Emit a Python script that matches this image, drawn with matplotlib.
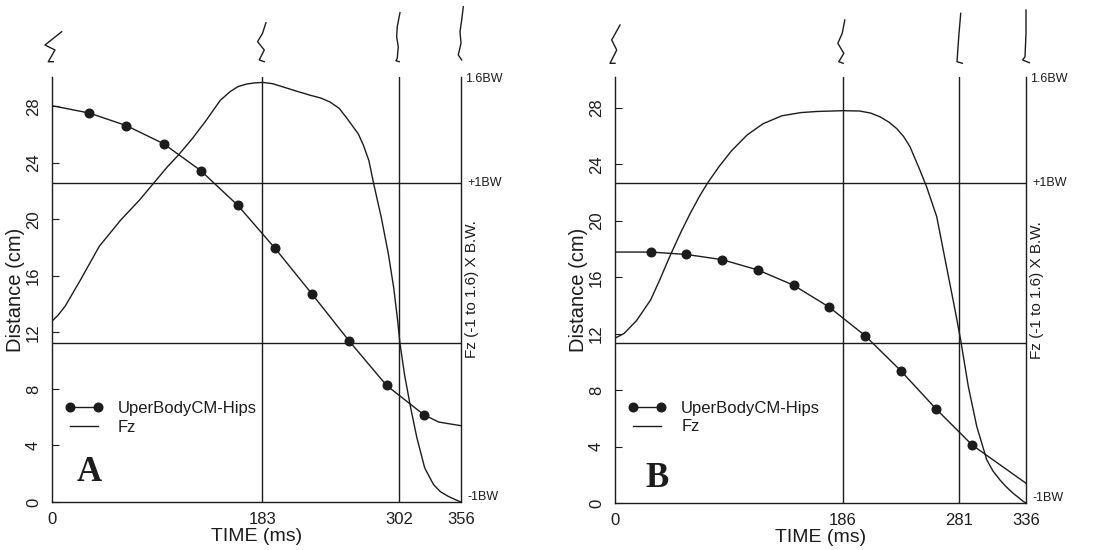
import matplotlib
matplotlib.use("Agg")
import matplotlib.pyplot as plt
from matplotlib import transforms
from matplotlib.lines import Line2D

plt.rcParams['font.family'] = ['Liberation Sans', 'DejaVu Sans']

# ---------------- data ----------------
dist_ticks = [0, 4, 8, 12, 16, 20, 24, 28]

# Panel A
timeA_ticks = [0, 183, 302, 356]
distA_t = [0, 32.4, 64.7, 97.1, 129.4, 161.8, 194.2, 226.5, 258.9, 291.2, 323.6, 336.5, 356]
distA_v = [28.05, 27.53, 26.64, 25.36, 23.46, 20.99, 17.95, 14.7, 11.37, 8.25, 6.18, 5.66, 5.4]
fzA_t = [0, 5, 11.4, 24.9, 41.1, 60, 68.1, 76.2, 88.4, 100.5, 110, 122.2, 134.3, 146.5, 155,
         162, 169, 176.2, 183.7, 192, 201, 212, 224.5, 234, 242, 250, 256.5, 266.6, 271, 275.8,
         279.9, 286.6, 292.8, 297.4, 300.9, 302.8, 306.8, 312.2, 317.6, 324.4, 332, 338, 345,
         351, 356]
fzA_v = [0.135, 0.17, 0.228, 0.395, 0.604, 0.771, 0.833, 0.895, 1.0, 1.104, 1.177, 1.281, 1.396,
         1.521, 1.575, 1.607, 1.622, 1.63, 1.633, 1.625, 1.605, 1.58, 1.553, 1.535, 1.51, 1.47,
         1.41, 1.31, 1.24, 1.143, 1.0, 0.786, 0.556, 0.346, 0.136, 0.0, -0.199, -0.409, -0.597,
         -0.786, -0.89, -0.935, -0.965, -0.985, -1.0]

# Panel B
timeB_ticks = [0, 186, 281, 336]
distB_t = [0, 29.2, 58.4, 87.6, 116.8, 146, 175.2, 204.4, 233.6, 262.8, 292, 336]
distB_v = [17.79, 17.79, 17.62, 17.25, 16.52, 15.44, 13.88, 11.87, 9.38, 6.64, 4.11, 1.4]
fzB_t = [0, 7.5, 17.6, 29.2, 36.9, 44.7, 53.7, 61.5, 69.3, 75.7, 84.8, 95.1, 108, 120.9, 136.4,
         151.9, 165, 177.8, 186, 200, 209, 216.6, 224, 230.3, 236, 241.2, 249.3, 254.8, 263,
         271.2, 278, 282.6, 288.8, 295.7, 303.9, 309, 314.7, 320, 325.6, 333.8, 336]
fzB_v = [0.03, 0.06, 0.14, 0.27, 0.40, 0.54, 0.69, 0.81, 0.92, 1.0, 1.10, 1.20, 1.30, 1.37,
         1.42, 1.44, 1.447, 1.45, 1.452, 1.45, 1.437, 1.414, 1.38, 1.34, 1.29, 1.226, 1.08,
         0.975, 0.79, 0.47, 0.206, 0.018, -0.27, -0.52, -0.73, -0.80, -0.856, -0.90, -0.94,
         -0.99, -1.0]

bw_lines = [0, 1]
bw_text = ['1.6BW', '+1BW', '-1BW']
series_labels = ['UperBodyCM-Hips', 'Fz']

# small body-outline glyphs drawn above each time tick (pixel offsets)
glyphsA = [
    [(9.7, 45.3), (-7, 32), (3, 27), (-3.7, 15.3), (1.3, 15.3)],
    [(3.7, 54.3), (0.3, 43.7), (-4.7, 35.3), (2, 27), (-3, 17), (2, 15.3)],
    [(1, 64.3), (-1.7, 50.3), (-2.3, 40.3), (-0.7, 30.3), (-1.7, 18.7), (-3, 16.3), (0.3, 15.3)],
    [(2.3, 70.3), (0.7, 57), (-1, 45.3), (0, 33.7), (-2.7, 22), (0.7, 17)],
]
glyphsB = [
    [(5, 52), (-3.3, 37), (1.7, 27), (-5, 13.7), (0, 13.7)],
    [(2.3, 57), (-0.3, 43.7), (-4.7, 33.7), (1.3, 23.7), (-3.7, 15.3), (0.7, 13.7)],
    [(2, 63.7), (0.3, 43.7), (-0.7, 30.3), (-1.7, 15.3), (3.7, 13.7)],
    [(0, 67), (0, 43.7), (-1, 20.3), (-3.3, 17), (3.3, 14.3)],
]

INK = '#1c1c1c'

fig = plt.figure(figsize=(11.07, 5.5), dpi=100)


def draw_panel(rect, t_ticks, dist_t, dist_v, fz_t, fz_v, y_top, fz_top, letter,
               letter_xy, legend_xy, glyphs):
    ax = fig.add_axes(rect)
    ax.set_xlim(0, t_ticks[-1])
    ax.set_ylim(0, y_top)
    ax.set_facecolor('none')
    for s in ['left', 'right', 'bottom']:
        ax.spines[s].set_color(INK)
        ax.spines[s].set_linewidth(1.0)
    ax.spines['top'].set_visible(False)

    ax.set_xticks(t_ticks)
    ax.set_xticklabels([str(t) for t in t_ticks])
    ax.tick_params(axis='x', length=0, pad=7, labelsize=12, colors=INK)
    ax.set_yticks(dist_ticks)
    ax.tick_params(axis='y', direction='in', length=5, pad=8, labelsize=12,
                   labelrotation=90, colors=INK)
    for lab in ax.get_yticklabels():
        lab.set_va('center')
    ax.set_xlabel('TIME (ms)', fontsize=14, labelpad=1, color=INK)
    ax.set_ylabel('Distance (cm)', fontsize=14.5, labelpad=0.5, color=INK)

    for t in t_ticks[1:3]:
        ax.axvline(t, color=INK, lw=1.0)

    h1, = ax.plot(dist_t, dist_v, '-o', color=INK, lw=1.0, ms=6.2,
                  markevery=list(range(1, 11)), label=series_labels[0])

    ax2 = ax.twinx()
    ax2.set_ylim(-1, fz_top)
    ax2.set_yticks([])
    for s in ax2.spines.values():
        s.set_visible(False)
    for lvl in bw_lines:
        ax2.axhline(lvl, color=INK, lw=1.0)
    h2, = ax2.plot(fz_t, fz_v, '-', color=INK, lw=1.0, label=series_labels[1])
    ax2.set_ylabel('Fz (-1 to 1.6) X B.W.', fontsize=11, labelpad=3, color=INK)

    bt = transforms.blended_transform_factory(ax2.transAxes, ax2.transData)
    ax2.text(1.01, fz_top - 0.01, bw_text[0], transform=bt, fontsize=9, va='center',
             ha='left', color=INK)
    ax2.text(1.016, 1, bw_text[1], transform=bt, fontsize=9, va='center', ha='left', color=INK)
    ax2.text(1.016, -0.97, bw_text[2], transform=bt, fontsize=9, va='center', ha='left',
             color=INK)

    ax2.legend(handles=[h1, h2], loc='upper left', bbox_to_anchor=legend_xy,
               frameon=False, numpoints=2, handlelength=2.3, handletextpad=0.88,
               labelspacing=0.22, borderaxespad=0, borderpad=0, fontsize=12,
               labelcolor=INK)

    ax2.text(letter_xy[0], letter_xy[1], letter, transform=ax2.transAxes, fontsize=25,
             fontweight='bold', family='Liberation Serif', va='baseline', ha='left',
             color=INK)

    blend = transforms.blended_transform_factory(ax.transData, ax.transAxes)
    for t, verts in zip(t_ticks, glyphs):
        tr = transforms.Affine2D().scale(fig.dpi / 100.0) + \
            transforms.ScaledTranslation(t, 1.0, blend)
        xs = [v[0] for v in verts]
        ys = [v[1] for v in verts]
        fig.add_artist(Line2D(xs, ys, transform=tr, color=INK, lw=1.0, clip_on=False))
    return ax, ax2


draw_panel([52 / 1107, 48 / 550, 409 / 1107, 425 / 550], timeA_ticks, distA_t, distA_v,
           fzA_t, fzA_v, 30.08, 1.667, 'A', (0.061, 0.049), (0.032, 0.237), glyphsA)
draw_panel([615 / 1107, 47 / 550, 411 / 1107, 426 / 550], timeB_ticks, distB_t, distB_v,
           fzB_t, fzB_v, 30.2, 1.6625, 'B', (0.073, 0.038), (0.032, 0.24), glyphsB)

fig.savefig('out.png', dpi=100)
